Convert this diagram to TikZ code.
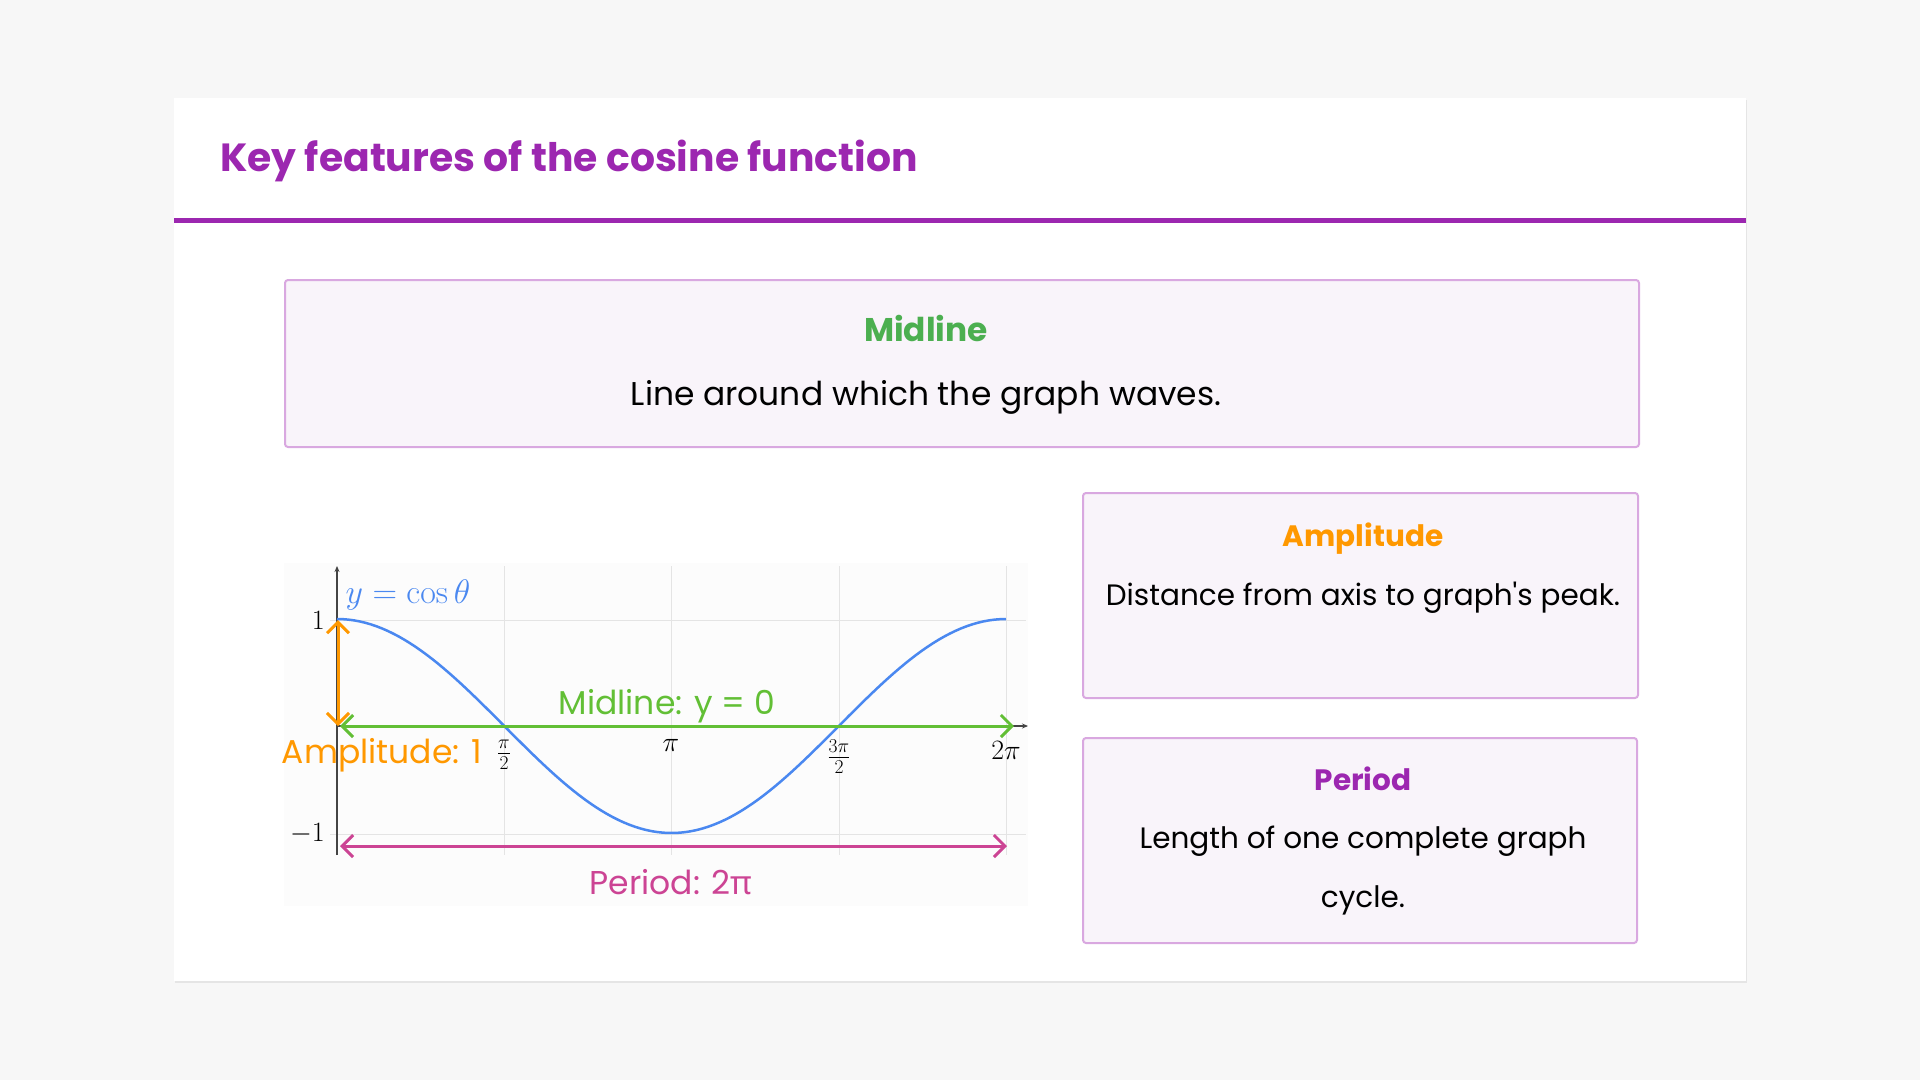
\RequirePackage{fix-cm}
\documentclass[tikz,border=0pt]{standalone}
\usepackage[no-math]{fontspec}
\setmainfont{Poppins}
\newfontfamily\popplain{Poppins}[Ligatures=TeXOff]
\newfontfamily\pifont{Noto Sans}
\usetikzlibrary{arrows.meta}
\definecolor{bg}{HTML}{F7F7F7}
\definecolor{purp}{HTML}{9C27B0}
\definecolor{boxfill}{HTML}{F9F4FA}
\definecolor{boxline}{HTML}{D9A8E0}
\definecolor{midgreen}{HTML}{4CAF50}
\definecolor{amporange}{HTML}{FF9800}
\definecolor{curveblue}{HTML}{4A88F0}
\definecolor{arrgreen}{HTML}{62BF35}
\definecolor{perpink}{HTML}{CC4494}
\definecolor{gridgrey}{HTML}{E4E4E4}
\definecolor{axisgrey}{HTML}{444444}
\definecolor{graphbg}{HTML}{FCFCFC}
\tikzset{
  featbox/.style={draw=boxline, fill=boxfill, line width=2pt, rounded corners=3pt, inner sep=0pt, anchor=north west},
  headtxt/.style={font=\fontsize{29.5}{34}\selectfont\bfseries, inner sep=0pt},
  bigheadtxt/.style={font=\fontsize{32.8}{38}\selectfont\bfseries, inner sep=0pt},
  bodytxt/.style={font=\fontsize{29.5}{59}\selectfont, inner sep=0pt, text=black, align=center},
  bigbodytxt/.style={font=\fontsize{32.9}{40}\selectfont, inner sep=0pt, text=black, align=center},
  gridln/.style={draw=gridgrey, line width=1pt},
  axisln/.style={draw=axisgrey, line width=1.2pt},
  featarrow/.style={line width=3pt, {Straight Barb[length=11pt,width=22pt]}-{Straight Barb[length=11pt,width=22pt]}},
  mathlbl/.style={font=\fontsize{28}{32}\selectfont, inner sep=0pt},
  graphlbl/.style={font=\fontsize{33}{38}\selectfont, inner sep=0pt}
}
\begin{document}
\begin{tikzpicture}[x=1pt,y=-1pt]
\useasboundingbox (0,0) rectangle (1920,1080);
\fill[bg] (0,0) rectangle (1920,1080);
% card
\fill[black!10] (175,100) rectangle (1747,983);
\fill[white] (174,98) rectangle (1746,981);
\node[anchor=west, inner sep=0pt, text=purp, font=\fontsize{39.3}{46}\selectfont\bfseries] (title) at (220,161) {Key features of the cosine function};
\fill[purp] (174,218) rectangle (1746,223);
% feature boxes
\node[featbox, minimum width=1354pt, minimum height=167pt] (midbox) at (284,279) {};
\node[bigheadtxt, text=midgreen] (midhead) at (926,328) {Midline};
\node[bigbodytxt] (midbody) at (926,397) {Line around which the graph waves.};
\node[featbox, minimum width=555pt, minimum height=205pt] (ampbox) at (1082,492) {};
\node[headtxt, text=amporange] (amphead) at (1363,539) {Amplitude};
\node[bodytxt] (ampbody) at (1363,598) {Distance from axis to graph{\popplain '}s peak.};
\node[featbox, minimum width=554pt, minimum height=205pt] (perbox) at (1082,737) {};
\node[headtxt, text=purp] (perhead) at (1363,779) {Period};
\node[bodytxt] (perbody) at (1363,871) {Length of one complete graph\\cycle.};
% graph
\fill[graphbg] (284,563) rectangle (1028,906);
\foreach \gx in {504,671,839,1006} \draw[gridln] (\gx,566) -- (\gx,855);
\draw[gridln] (330,620) -- (1026,620);
\draw[gridln] (330,834) -- (1026,834);
\coordinate (ybot) at (337,855);
\coordinate (ytop) at (337,566);
\coordinate (xleft) at (337,726);
\coordinate (xright) at (1028,726);
\draw[axisln, -{Stealth[length=6pt,width=5pt]}] (ybot) -- (ytop);
\draw[axisln, -{Stealth[length=6pt,width=5pt]}] (xleft) -- (xright);
\draw[curveblue, line width=2.5pt, line join=round] plot[domain=0:6.2832, samples=120] ({337 + \x*106.48}, {726 - 107*cos(\x r)});
\node[mathlbl, anchor=east] (one) at (325,620) {$1$};
\node[mathlbl, anchor=east] (mone) at (325,834) {$-1$};
\node[mathlbl] (tpi2) at (504,755) {$\frac{\pi}{2}$};
\node[mathlbl] (tpi) at (671,745) {$\pi$};
\node[mathlbl] (t3pi2) at (839,757) {$\frac{3\pi}{2}$};
\node[mathlbl] (t2pi) at (1006,750) {$2\pi$};
\node[font=\fontsize{34}{38}\selectfont, text=curveblue, inner sep=0pt] (eqn) at (408,595) {$y=\cos\theta$};
% feature arrows
\coordinate (amptop) at (338,620);
\coordinate (ampbot) at (338,726);
\coordinate (midL) at (340,726);
\coordinate (midR) at (1014,726);
\coordinate (perL) at (340,846);
\coordinate (perR) at (1007,846);
\draw[featarrow, draw=arrgreen] (midL) -- (midR);
\draw[featarrow, draw=amporange] (amptop) -- (ampbot);
\draw[featarrow, draw=perpink] (perL) -- (perR);
\node[graphlbl, text=arrgreen] (midlbl) at (667,706) {Midline: y = 0};
\node[graphlbl, text=amporange] (amplbl) at (382,755) {Amplitude: 1};
\node[graphlbl, text=perpink] (perlbl) at (671,882) {Period: 2{\pifont π}};
\end{tikzpicture}
\end{document}
